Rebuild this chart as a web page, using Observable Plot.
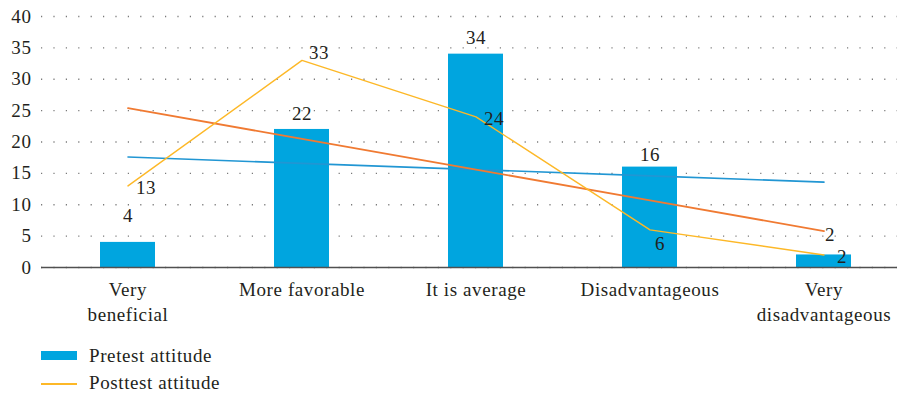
<!DOCTYPE html>
<html>
<head>
<meta charset="utf-8">
<script src="https://cdn.jsdelivr.net/npm/d3@7"></script>
<script src="https://cdn.jsdelivr.net/npm/@observablehq/plot@0.6"></script>
<style>
  html, body { margin: 0; padding: 0; background: #fff; overflow: hidden; }
  body { position: relative; width: 897px; height: 395px; font-family: "Liberation Serif", serif; color: #231f20; }
  #chart svg { display: block; }
  .swatch { position: absolute; left: 41px; width: 36px; }
  .label { position: absolute; left: 89px; font-size: 19px; line-height: 1; letter-spacing: 0.6px; white-space: nowrap; }
</style>
</head>
<body>
<div id="chart"></div>
<div class="swatch" style="top:351px;height:9px;background:#00a5df"></div>
<div class="label" style="top:346px">Pretest attitude</div>
<div class="swatch" style="top:383px;height:1.5px;background:#fdb827"></div>
<div class="label" style="top:373px">Posttest attitude</div>
<script>
// Attitude categories and their wrapped axis labels
const categories = ["Very beneficial", "More favorable", "It is average", "Disadvantageous", "Very disadvantageous"];
const tickLabels = ["Very\nbeneficial", "More favorable", "It is average", "Disadvantageous", "Very\ndisadvantageous"];

// Counts per category
const pretest = [4, 22, 34, 16, 2];
const posttest = [13, 33, 24, 6, 2];

const yTicks = [0, 5, 10, 15, 20, 25, 30, 35, 40];

const pre = categories.map((c, i) => ({category: c, value: pretest[i], i}));
const post = categories.map((c, i) => ({category: c, value: posttest[i], i}));

// Least-squares linear trend over the category index
function trend(values) {
  const xs = values.map((_, i) => i + 1);
  const mx = d3.mean(xs), my = d3.mean(values);
  const slope = d3.sum(xs, (x, i) => (x - mx) * (values[i] - my)) / d3.sum(xs, x => (x - mx) ** 2);
  return categories.map((c, i) => ({category: c, value: my + slope * (xs[i] - mx)}));
}
const preTrend = trend(pretest);
const postTrend = trend(posttest);

const textStyle = {fill: "#231f20", fontSize: 19, lineAnchor: "middle"};

const chart = Plot.plot({
  width: 897,
  height: 330,
  marginLeft: 41,
  marginRight: 0,
  marginTop: 16,
  marginBottom: 63,
  style: {fontFamily: "'Liberation Serif', serif", fontSize: "19px", color: "#231f20", background: "white", letterSpacing: "0.6px"},
  x: {type: "band", domain: categories, range: [40.5, 910.5], paddingInner: 0.684, paddingOuter: 0.342, label: null},
  y: {domain: [0, 40], label: null},
  marks: [
    Plot.gridY(yTicks, {stroke: "#7a7a7a", strokeOpacity: 1, strokeWidth: 1.3, strokeDasharray: "1.2 11.2"}),
    Plot.axisY(yTicks, {tickSize: 0, tickPadding: 10, label: null}),
    Plot.axisX({tickSize: 0, tickPadding: 10, lineHeight: 1.35, label: null,
      tickFormat: d => tickLabels[categories.indexOf(d)]}),
    Plot.barY(pre, {x: "category", y: "value", fill: "#00a5df"}),
    Plot.ruleY([0], {stroke: "#505050", strokeWidth: 1.5}),
    Plot.line(preTrend, {x: "category", y: "value", stroke: "#2196d3", strokeWidth: 1.6}),
    Plot.line(postTrend, {x: "category", y: "value", stroke: "#f07a32", strokeWidth: 1.8}),
    Plot.line(post, {x: "category", y: "value", stroke: "#fdb827", strokeWidth: 1.4}),
    // value labels above the bars
    Plot.text(pre, {filter: d => d.i === 1 || d.i === 2, x: "category", y: "value", text: "value", dy: -16, ...textStyle}),
    Plot.text(pre, {filter: d => d.i === 0, x: "category", y: "value", text: "value", dy: -26, ...textStyle}),
    Plot.text(pre, {filter: d => d.i === 3, x: "category", y: "value", text: "value", dy: -12, ...textStyle}),
    Plot.text(pre, {filter: d => d.i === 4, x: "category", y: "value", text: "value", dx: 6, dy: -20, ...textStyle}),
    // value labels beside the posttest line
    Plot.text(post, {filter: d => d.i === 0 || d.i === 2 || d.i === 4, x: "category", y: "value", text: "value", dx: 18, dy: 2, ...textStyle}),
    Plot.text(post, {filter: d => d.i === 1, x: "category", y: "value", text: "value", dx: 17, dy: -8, ...textStyle}),
    Plot.text(post, {filter: d => d.i === 3, x: "category", y: "value", text: "value", dx: 10, dy: 14, ...textStyle})
  ]
});
document.getElementById("chart").append(chart);
</script>
</body>
</html>
